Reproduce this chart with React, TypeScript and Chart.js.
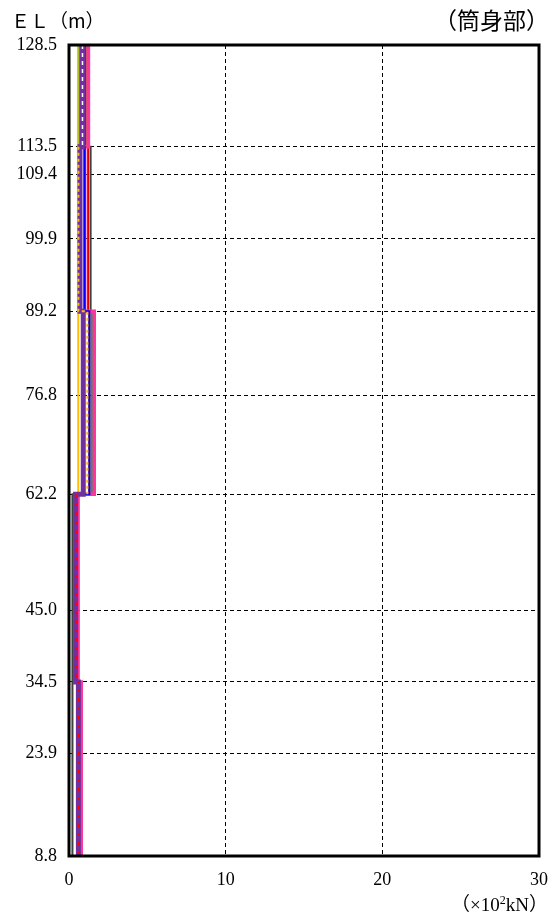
import React, { useEffect, useRef } from "react";
import { Chart, registerables } from "chart.js";

Chart.register(...registerables);

// Elevation ticks (m) shown on the y axis
const ELEVATION_TICKS = [128.5, 113.5, 109.4, 99.9, 89.2, 76.8, 62.2, 45.0, 34.5, 23.9, 8.8];
// Band boundaries of the stepped profiles (top to bottom)
const BAND_EDGES = [128.5, 113.5, 89.2, 62.2, 34.5, 8.8];
// x-axis ticks (×10² kN)
const X_TICKS = [0, 10, 20, 30];

// Per-band values (×10² kN), bands from top to bottom; null = not drawn in that band
const grayValues = [1.05, 1.38, 1.45, 0.22, 0.22];
const orangeValues = [0.57, 0.57, 0.59, 0.4, 0.58];
const pinkValues = [1.24, 1.0, 1.61, 0.58, 0.78];
const redValues = [1.05, 1.22, 1.3, 0.42, 0.6];
const greenValues = [0.68, 0.7, 1.45, 0.42, 0.6];
const blueValues = [0.86, 1.0, 1.3, 0.42, 0.6];
const purpleValues = [0.86, 0.7, 0.91, 0.42, 0.6];
const whiteDashValues = [0.86, null, null, null, null];
const orangeDashValues = [null, 0.6, 1.17, null, null];
const redDashValues = [null, null, null, 0.44, 0.64];

function stepPoints(values: (number | null)[]) {
  const pts: { x: number | null; y: number | null }[] = [];
  values.forEach((v, i) => {
    if (v === null) {
      pts.push({ x: null, y: null });
      return;
    }
    pts.push({ x: v, y: BAND_EDGES[i] });
    pts.push({ x: v, y: BAND_EDGES[i + 1] });
  });
  return pts;
}

const framePlugin = {
  id: "frame",
  afterDatasetsDraw(chart: any) {
    const { ctx, chartArea } = chart;
    ctx.save();
    ctx.strokeStyle = "#000";
    ctx.lineWidth = 3;
    ctx.strokeRect(chartArea.left, chartArea.top, chartArea.right - chartArea.left, chartArea.bottom - chartArea.top);
    ctx.restore();
  },
};

export default function App() {
  const ref = useRef<HTMLCanvasElement>(null);
  useEffect(() => {
    if (!ref.current) return;
    const mk = (label: string, values: (number | null)[], color: string, width: number, dash: number[] = []) => ({
      label,
      data: stepPoints(values),
      borderColor: color,
      backgroundColor: color,
      borderWidth: width,
      borderDash: dash,
      showLine: true,
      spanGaps: false,
      pointRadius: 0,
      fill: false,
      tension: 0,
    });
    // Chart.js paints the first dataset on top, so this list goes from top layer to bottom layer
    const chart = new Chart(ref.current, {
      type: "scatter",
      data: {
        datasets: [
          mk("redDash", redDashValues, "#FF0000", 2, [3, 6]),
          mk("orangeDash", orangeDashValues, "#FFC000", 2, [3, 3]),
          mk("whiteDash", whiteDashValues, "#FFFFFF", 1.5, [4, 4]),
          mk("purple", purpleValues, "#7030A0", 5),
          mk("blue", blueValues, "#0000FF", 2),
          mk("pink", pinkValues, "#FF3399", 3.5),
          mk("green", greenValues, "#00B050", 2),
          mk("red", redValues, "#E00000", 2),
          mk("orange", orangeValues, "#FFC000", 2),
          mk("gray", grayValues, "#404040", 2),
        ] as any,
      },
      options: {
        animation: false,
        responsive: false,
        devicePixelRatio: 1,
        layout: { padding: { top: 45, right: 12, bottom: 0, left: 0 } },
        plugins: { legend: { display: false }, tooltip: { enabled: false } },
        scales: {
          x: {
            type: "linear",
            min: 0,
            max: 30,
            afterBuildTicks: (s: any) => {
              s.ticks = X_TICKS.map((v) => ({ value: v }));
            },
            afterFit: (s: any) => {
              s.height = 61;
              s.paddingRight = 0;
              s.paddingLeft = 0;
            },
            ticks: {
              color: "#000",
              padding: 13,
              font: { family: "'Liberation Serif', 'DejaVu Serif', serif", size: 18 },
              maxRotation: 0,
            },
            grid: { color: "#000", lineWidth: 1, drawTicks: false },
            border: { display: false, dash: [4, 3] },
          },
          y: {
            type: "linear",
            min: 8.8,
            max: 128.5,
            afterBuildTicks: (s: any) => {
              s.ticks = ELEVATION_TICKS.map((v) => ({ value: v }));
            },
            afterFit: (s: any) => {
              s.width = 69;
              s.paddingTop = 0;
              s.paddingBottom = 0;
            },
            ticks: {
              color: "#000",
              padding: 12,
              font: { family: "'Liberation Serif', 'DejaVu Serif', serif", size: 18 },
              callback: (v: any) => Number(v).toFixed(1),
            },
            grid: { color: "#000", lineWidth: 1, drawTicks: false },
            border: { display: false, dash: [4, 3] },
          },
        },
      },
      plugins: [framePlugin],
    });
    return () => chart.destroy();
  }, []);

  return (
    <div style={{ position: "fixed", left: 0, top: 0, width: 551, height: 917, background: "#fff" }}>
      <canvas ref={ref} width={551} height={917} style={{ position: "absolute", left: 0, top: 0 }} />
      <div
        style={{
          position: "absolute",
          left: 11,
          top: 7,
          fontFamily: "'Noto Sans CJK JP', serif",
          fontSize: 19,
          lineHeight: "26px",
          color: "#000",
          whiteSpace: "nowrap",
        }}
      >
        ＥＬ（m）
      </div>
      <div
        style={{
          position: "absolute",
          right: 2,
          top: 4,
          fontFamily: "'Noto Sans CJK JP', serif",
          fontSize: 23,
          lineHeight: "30px",
          color: "#000",
          whiteSpace: "nowrap",
        }}
      >
        （筒身部）
      </div>
      <div
        style={{
          position: "absolute",
          right: 3,
          top: 892,
          fontFamily: "'Liberation Serif', 'Noto Sans CJK JP', serif",
          fontSize: 19,
          lineHeight: "26px",
          color: "#000",
          whiteSpace: "nowrap",
        }}
      >
        （×10<sup style={{ fontSize: 12, lineHeight: 0 }}>2</sup>kN）
      </div>
    </div>
  );
}
